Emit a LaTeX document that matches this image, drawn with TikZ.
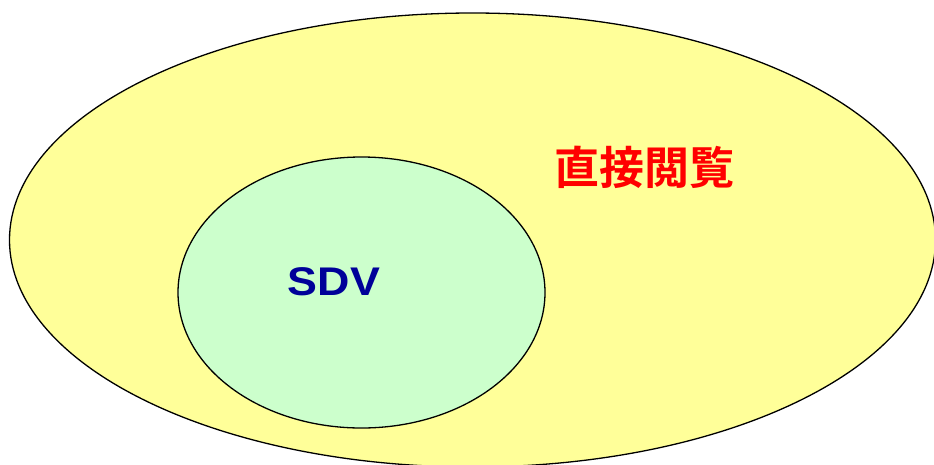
\documentclass[tikz,border=0pt]{standalone}
\usepackage{fontspec}
\usetikzlibrary{shapes.geometric}
\setmainfont{Liberation Sans}
\newfontfamily\cjk{Noto Sans CJK JP}[BoldFont={Noto Sans CJK JP Bold}]
\definecolor{outerfill}{HTML}{FFFF99}
\definecolor{innerfill}{HTML}{CCFFCC}
\definecolor{sdvblue}{HTML}{000099}
\tikzset{
  setshape/.style={draw=black, line width=1.3pt, ellipse, inner sep=0pt},
}
\begin{document}
\begin{tikzpicture}[x=1pt,y=-1pt]
\useasboundingbox (0,0) rectangle (934,464);
\begin{scope}
\clip (0,0) rectangle (934,464);
\node[setshape, fill=outerfill, minimum width=926pt, minimum height=454pt] (outer) at (472.5,240) {};
\end{scope}
\node[setshape, fill=innerfill, minimum width=367pt, minimum height=271pt] (inner) at (361.5,292.5) {};
\node[text=red, font=\cjk\bfseries\fontsize{45}{45}\selectfont] (direct) at (644,167) {直接閲覧};
\node[text=sdvblue, font=\bfseries\fontsize{40}{40}\selectfont, xscale=1.12] (sdv) at (334,282) {SDV};
\end{tikzpicture}
\end{document}
